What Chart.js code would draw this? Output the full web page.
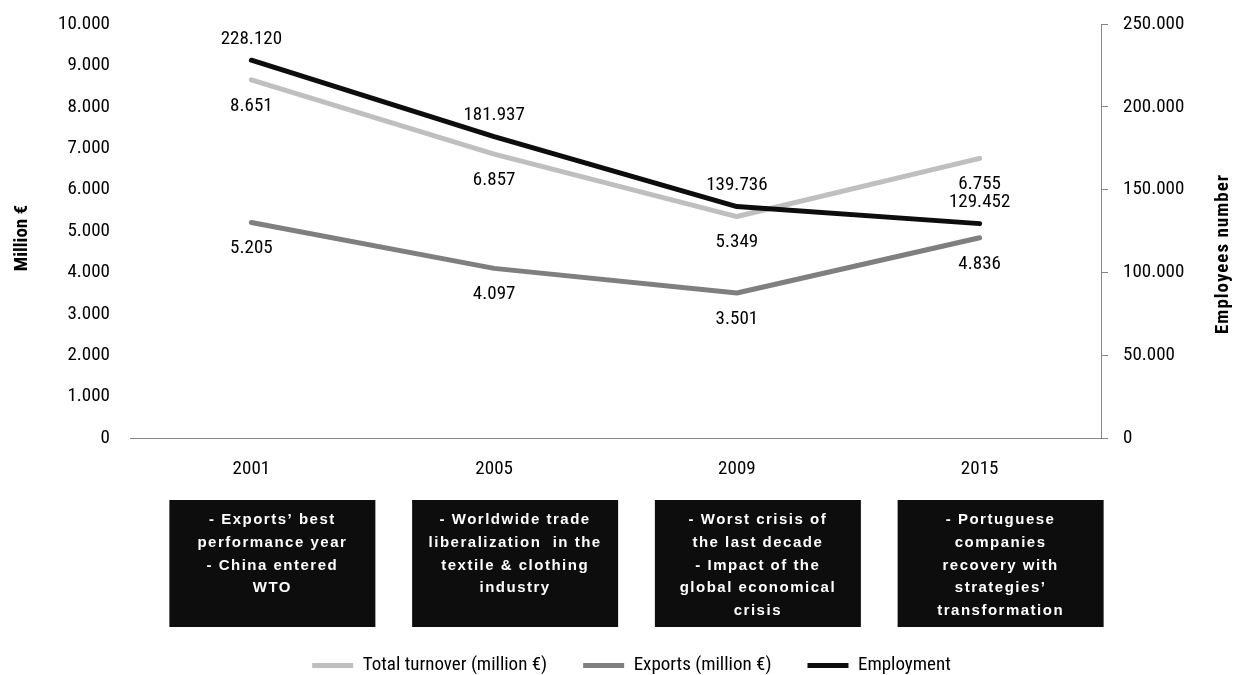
<!DOCTYPE html>
<html>
<head>
<meta charset="utf-8">
<script src="https://cdn.jsdelivr.net/npm/chart.js@4"></script>
<style>
    body { margin: 0; background: #fff; }
    #wrap { width: 1239px; height: 675px; position: relative; }
</style>
</head>
<body>
<div id="wrap"><canvas id="chart"></canvas></div>
<script>
const years = ['2001', '2005', '2009', '2015'];
const turnover = [8651, 6857, 5349, 6755];
const exportsM = [5205, 4097, 3501, 4836];
const employment = [228120, 181937, 139736, 129452];
const seriesNames = ['Total turnover (million €)', 'Exports (million €)', 'Employment'];
const leftTitle = 'Million €';
const rightTitle = 'Employees number';
const notes = [
    ['- Exports’ best', 'performance year', '- China entered', 'WTO'],
    ['- Worldwide trade', 'liberalization  in the', 'textile & clothing', 'industry'],
    ['- Worst crisis of', 'the last decade', '- Impact of the', 'global economical', 'crisis'],
    ['- Portuguese', 'companies', 'recovery with', 'strategies’', 'transformation']
];

// plot frame (px)
const PLOT_LEFT = 130, PLOT_RIGHT = 1101, PLOT_TOP = 24, PLOT_BOTTOM = 438;
const PAD_LEFT = 24; // nudges the legend to the right
const FONT = "'Roboto Condensed', 'Liberation Sans', sans-serif";
const AXIS_GREY = '#868686';

function fmt(v) {
    return String(v).replace(/\B(?=(\d{3})+(?!\d))/g, '.');
}

Chart.defaults.font.family = FONT;
Chart.defaults.font.size = 19;
Chart.defaults.color = '#000';

const pointLabels = {
    id: 'pointLabels',
    afterDatasetsDraw(chart) {
        const ctx = chart.ctx;
        ctx.save();
        ctx.font = `19px ${FONT}`;
        ctx.fillStyle = '#000';
        ctx.textAlign = 'center';
        ctx.textBaseline = 'middle';
        chart.data.datasets.forEach((ds, di) => {
            chart.getDatasetMeta(di).data.forEach((pt, i) => {
                ctx.fillText(fmt(ds.data[i]), pt.x, pt.y + ds.labelOffset);
            });
        });
        ctx.restore();
    }
};

const extras = {
    id: 'extras',
    afterDraw(chart) {
        const ctx = chart.ctx;
        const xs = chart.scales.x;
        ctx.save();

        // axis titles
        ctx.fillStyle = '#000';
        ctx.textAlign = 'center';
        ctx.textBaseline = 'middle';
        ctx.font = `bold 19px ${FONT}`;
        ctx.save();
        ctx.translate(22, 238);
        ctx.rotate(-Math.PI / 2);
        ctx.fillText(leftTitle, 0, 0);
        ctx.restore();
        ctx.save();
        ctx.translate(1223, 254);
        ctx.rotate(-Math.PI / 2);
        ctx.letterSpacing = '1px';
        ctx.fillText(rightTitle, 0, 0);
        ctx.restore();

        // note boxes under each year
        const boxW = 206, boxTop = 500, boxH = 127;
        notes.forEach((lines, i) => {
            const cx = xs.getPixelForValue(i) + 21;
            ctx.fillStyle = '#0d0d0d';
            ctx.fillRect(cx - boxW / 2, boxTop, boxW, boxH);
            ctx.fillStyle = '#fff';
            ctx.font = "bold 15px 'Liberation Sans', sans-serif";
            ctx.letterSpacing = '1.5px';
            lines.forEach((t, j) => {
                ctx.fillText(t, cx, boxTop + 20 + j * 22.7);
            });
        });
        ctx.restore();
    }
};

// keep the tick padding from pushing the plot down
function noVPad(s) {
    s.paddingTop = 0;
    s.paddingBottom = 0;
}

new Chart(document.getElementById('chart'), {
    type: 'line',
    data: {
        labels: years,
        datasets: [
            { label: seriesNames[0], data: turnover, yAxisID: 'y', borderColor: '#bfbfbf', backgroundColor: '#bfbfbf', order: 2, labelOffset: 26 },
            { label: seriesNames[1], data: exportsM, yAxisID: 'y', borderColor: '#7f7f7f', backgroundColor: '#7f7f7f', order: 1, labelOffset: 26 },
            { label: seriesNames[2], data: employment, yAxisID: 'y1', borderColor: '#0d0d0d', backgroundColor: '#0d0d0d', order: 0, labelOffset: -21 }
        ]
    },
    options: {
        responsive: true,
        maintainAspectRatio: false,
        animation: false,
        layout: { padding: { top: PLOT_TOP, left: PAD_LEFT, right: 0, bottom: -10 } },
        elements: {
            line: { borderWidth: 5, tension: 0, borderCapStyle: 'round', borderJoinStyle: 'round' },
            point: { radius: 0, hoverRadius: 0 }
        },
        plugins: {
            tooltip: { enabled: false },
            legend: {
                position: 'bottom',
                labels: {
                    boxWidth: 41,
                    boxHeight: 5,
                    padding: 36,
                    font: { size: 19 },
                    sort: (a, b) => a.datasetIndex - b.datasetIndex,
                    generateLabels: chart => Chart.defaults.plugins.legend.labels.generateLabels(chart)
                        .map(l => ({ ...l, fillStyle: l.strokeStyle, lineWidth: 0 }))
                }
            }
        },
        scales: {
            x: {
                offset: true,
                grid: { display: false, drawTicks: false },
                border: { display: true, color: AXIS_GREY, width: 1 },
                ticks: { padding: 20 },
                afterFit: s => { s.height = s.chart.height + 10 - PLOT_BOTTOM - (s.chart.legend ? s.chart.legend.height : 0); }
            },
            y: {
                position: 'left',
                min: 0, max: 10000,
                grid: { display: false, drawTicks: false },
                border: { display: false },
                ticks: { stepSize: 1000, padding: 20, callback: v => fmt(v) },
                afterFit: s => { s.width = PLOT_LEFT - PAD_LEFT; noVPad(s); }
            },
            y1: {
                position: 'right',
                min: 0, max: 250000,
                grid: { display: true, drawOnChartArea: false, drawTicks: true, tickLength: 7, color: AXIS_GREY },
                border: { display: true, color: AXIS_GREY, width: 1 },
                ticks: { stepSize: 50000, padding: 15, callback: v => fmt(v) },
                afterFit: s => { s.width = s.chart.width - PLOT_RIGHT; noVPad(s); }
            }
        }
    },
    plugins: [pointLabels, extras]
});
</script>
</body>
</html>
